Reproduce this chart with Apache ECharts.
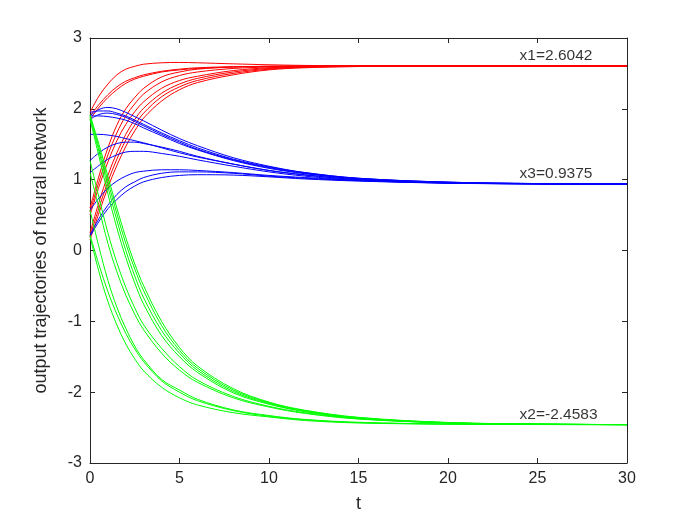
<!DOCTYPE html>
<html>
<head>
<meta charset="utf-8">
<script src="https://cdn.jsdelivr.net/npm/echarts@6/dist/echarts.min.js"></script>
<style>html,body{margin:0;padding:0;background:#fff;}#c{width:692px;height:519px;}</style>
</head>
<body>
<div id="c"></div>
<script>
// time samples (t)
var T = [0, 0.5, 1, 1.5, 2, 2.5, 3, 4, 5, 6, 8, 10, 12, 15, 20, 25, 30];

// x1 trajectories (red)
var x1Curves = [
  [1.95, 2.18, 2.35, 2.48, 2.56, 2.6, 2.63, 2.65, 2.655, 2.65, 2.635, 2.622, 2.613, 2.607, 2.605, 2.6045, 2.6042],
  [1.9, 2.06, 2.2, 2.31, 2.39, 2.44, 2.48, 2.53, 2.56, 2.58, 2.595, 2.6, 2.603, 2.604, 2.6042, 2.6042, 2.6042],
  [1.85, 2.02, 2.16, 2.27, 2.36, 2.42, 2.46, 2.52, 2.55, 2.57, 2.59, 2.6, 2.603, 2.604, 2.6042, 2.6042, 2.6042],
  [0.6, 1.05, 1.45, 1.77, 2.0, 2.16, 2.29, 2.45, 2.52, 2.56, 2.59, 2.6, 2.603, 2.604, 2.6042, 2.6042, 2.6042],
  [0.55, 0.97, 1.35, 1.66, 1.9, 2.07, 2.21, 2.38, 2.47, 2.52, 2.57, 2.59, 2.6, 2.603, 2.604, 2.6042, 2.6042],
  [0.5, 0.9, 1.25, 1.55, 1.78, 1.96, 2.1, 2.29, 2.4, 2.46, 2.54, 2.58, 2.595, 2.602, 2.604, 2.6042, 2.6042],
  [0.25, 0.68, 1.06, 1.38, 1.64, 1.85, 2.01, 2.22, 2.35, 2.43, 2.52, 2.57, 2.59, 2.6, 2.604, 2.6042, 2.6042],
  [0.2, 0.6, 0.97, 1.29, 1.56, 1.77, 1.94, 2.17, 2.31, 2.4, 2.5, 2.56, 2.585, 2.598, 2.603, 2.6042, 2.6042],
  [0.15, 0.53, 0.89, 1.2, 1.47, 1.69, 1.87, 2.11, 2.27, 2.37, 2.48, 2.55, 2.58, 2.597, 2.603, 2.604, 2.6042]
];

// x3 trajectories (blue)
var x3Curves = [
  [1.9, 1.99, 2.02, 2.0, 1.95, 1.89, 1.83, 1.7, 1.58, 1.48, 1.31, 1.19, 1.1, 1.02, 0.965, 0.945, 0.9375],
  [1.95, 1.97, 1.97, 1.94, 1.9, 1.84, 1.78, 1.66, 1.55, 1.45, 1.29, 1.18, 1.1, 1.02, 0.965, 0.945, 0.9375],
  [1.85, 1.92, 1.94, 1.92, 1.88, 1.82, 1.76, 1.64, 1.53, 1.43, 1.28, 1.17, 1.09, 1.015, 0.963, 0.944, 0.9375],
  [1.9, 1.9, 1.89, 1.87, 1.84, 1.79, 1.73, 1.62, 1.51, 1.42, 1.27, 1.16, 1.085, 1.01, 0.96, 0.943, 0.9375],
  [1.64, 1.64, 1.63, 1.61, 1.58, 1.55, 1.52, 1.45, 1.38, 1.32, 1.22, 1.13, 1.07, 1.0, 0.955, 0.942, 0.9375],
  [1.27, 1.38, 1.46, 1.51, 1.53, 1.53, 1.51, 1.46, 1.4, 1.33, 1.22, 1.13, 1.065, 1.0, 0.955, 0.942, 0.9375],
  [1.1, 1.2, 1.29, 1.35, 1.39, 1.4, 1.4, 1.37, 1.33, 1.28, 1.19, 1.11, 1.05, 0.99, 0.952, 0.941, 0.9375],
  [0.57, 0.74, 0.88, 0.98, 1.05, 1.1, 1.12, 1.14, 1.14, 1.13, 1.1, 1.06, 1.03, 0.99, 0.955, 0.942, 0.9375],
  [0.22, 0.45, 0.64, 0.79, 0.9, 0.97, 1.03, 1.09, 1.11, 1.11, 1.09, 1.05, 1.02, 0.985, 0.953, 0.941, 0.9375],
  [0.2, 0.41, 0.59, 0.72, 0.83, 0.91, 0.97, 1.03, 1.06, 1.07, 1.065, 1.04, 1.01, 0.98, 0.95, 0.94, 0.9375]
];

// x2 trajectories (green)
var x2Curves = [
  [0.2, -0.3, -0.72, -1.05, -1.32, -1.53, -1.7, -1.93, -2.08, -2.18, -2.29, -2.35, -2.4, -2.435, -2.452, -2.457, -2.4583],
  [0.22, -0.2, -0.58, -0.9, -1.17, -1.39, -1.57, -1.84, -2.0, -2.12, -2.26, -2.34, -2.39, -2.43, -2.45, -2.456, -2.4583],
  [0.57, 0.05, -0.42, -0.8, -1.1, -1.35, -1.54, -1.82, -1.97, -2.1, -2.25, -2.33, -2.385, -2.425, -2.45, -2.456, -2.4583],
  [1.1, 0.6, 0.1, -0.3, -0.63, -0.9, -1.12, -1.45, -1.69, -1.86, -2.08, -2.21, -2.3, -2.38, -2.435, -2.452, -2.4583],
  [1.27, 0.75, 0.25, -0.17, -0.52, -0.81, -1.05, -1.38, -1.64, -1.83, -2.06, -2.2, -2.29, -2.375, -2.433, -2.451, -2.4583],
  [1.9, 1.45, 0.98, 0.52, 0.1, -0.26, -0.57, -1.06, -1.41, -1.66, -1.97, -2.15, -2.26, -2.36, -2.43, -2.45, -2.4583],
  [1.88, 1.4, 0.9, 0.43, 0.0, -0.36, -0.67, -1.13, -1.45, -1.69, -1.99, -2.16, -2.27, -2.365, -2.432, -2.451, -2.4583],
  [1.92, 1.5, 1.05, 0.6, 0.18, -0.19, -0.5, -1.0, -1.37, -1.63, -1.95, -2.14, -2.255, -2.355, -2.428, -2.45, -2.4583],
  [1.85, 1.33, 0.8, 0.32, -0.1, -0.46, -0.76, -1.2, -1.5, -1.72, -2.01, -2.17, -2.275, -2.37, -2.434, -2.452, -2.4583]
];

// annotations
var annoText = ['x1=2.6042', 'x3=0.9375', 'x2=-2.4583'];
var annoT = [24, 24, 24];
var annoY = [2.6042, 0.9375, -2.4583];

var xTicks = [0, 5, 10, 15, 20, 25, 30];
var yTicks = [-3, -2, -1, 0, 1, 2, 3];

var FONT = 'Liberation Sans, Arial, Helvetica, sans-serif';
var AX = '#262626';

function mk(curves, color) {
  return curves.map(function (c) {
    return {
      type: 'line',
      data: c.map(function (v, i) { return [T[i], v]; }),
      showSymbol: false,
      symbol: 'none',
      smooth: 0.35,
      lineStyle: { color: color, width: 1 },
      itemStyle: { color: color },
      silent: true,
      animation: false,
      z: 2
    };
  });
}

var series = [].concat(mk(x1Curves, '#ff0000'), mk(x3Curves, '#0000ff'), mk(x2Curves, '#00ff00'));
series.push({
  type: 'scatter',
  symbolSize: 0,
  data: annoText.map(function (s, i) { return { value: [annoT[i], annoY[i]], name: s }; }),
  label: {
    show: true,
    position: 'top',
    align: 'left',
    distance: 2,
    formatter: function (p) { return p.name; },
    fontFamily: FONT,
    fontSize: 15.5,
    color: '#000'
  },
  silent: true,
  animation: false,
  z: 5
});

function axisCommon() {
  return {
    axisLine: { show: true, onZero: false, lineStyle: { color: AX, width: 1 } },
    axisTick: { show: true, inside: true, length: 5, lineStyle: { color: AX } },
    splitLine: { show: false },
    axisLabel: { fontFamily: FONT, fontSize: 16, color: AX, margin: 8 }
  };
}

var xb = Object.assign(axisCommon(), {
  type: 'value', min: 0, max: 30, interval: 5, position: 'bottom',
  name: 't', nameLocation: 'middle', nameGap: 32,
  nameTextStyle: { fontFamily: FONT, fontSize: 18, color: AX }
});
var xt = Object.assign(axisCommon(), {
  type: 'value', min: 0, max: 30, interval: 5, position: 'top'
});
xt.axisLabel = { show: false };
var yl = Object.assign(axisCommon(), {
  type: 'value', min: -3, max: 3, interval: 1, position: 'left',
  name: 'output trajectories of neural network', nameLocation: 'middle', nameGap: 40,
  nameTextStyle: { fontFamily: FONT, fontSize: 18, color: AX }
});
var yr = Object.assign(axisCommon(), {
  type: 'value', min: -3, max: 3, interval: 1, position: 'right'
});
yr.axisLabel = { show: false };

var chart = echarts.init(document.getElementById('c'), null, { renderer: 'canvas' });
chart.setOption({
  backgroundColor: '#ffffff',
  animation: false,
  grid: { left: 90, right: 65, top: 38, bottom: 56, containLabel: false },
  xAxis: [xb, xt],
  yAxis: [yl, yr],
  series: series
});
</script>
</body>
</html>
